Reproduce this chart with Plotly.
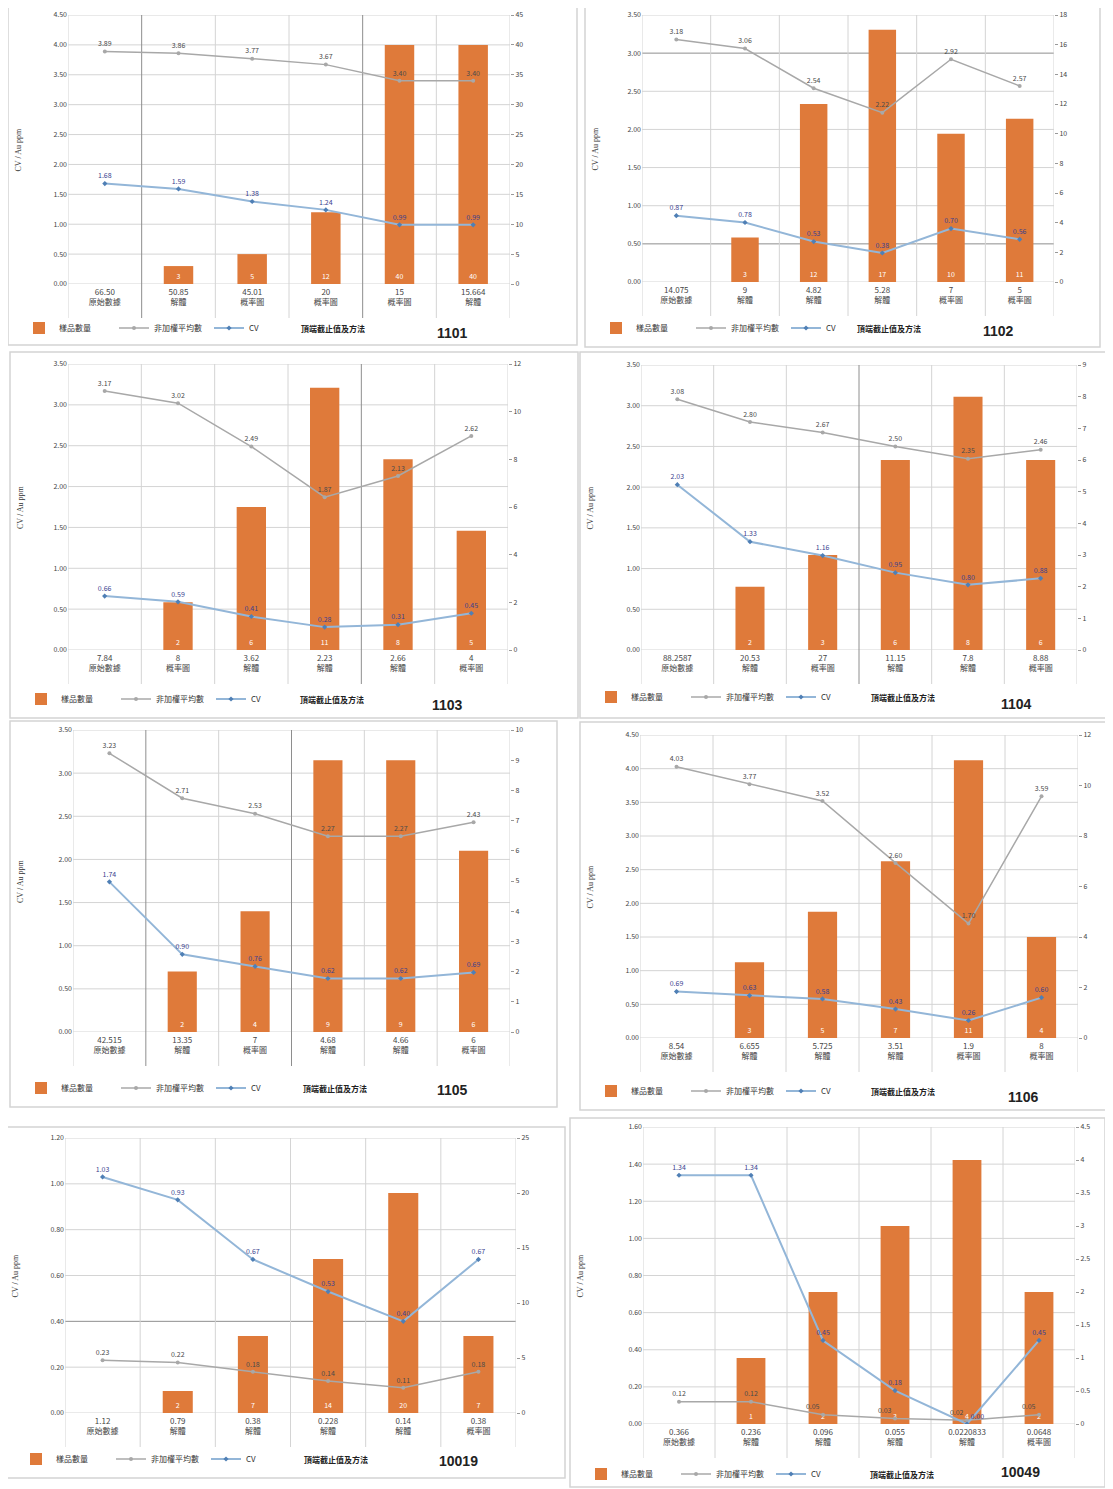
import plotly.graph_objects as go

# the page body adds an 8px margin, so the figure is drawn 8px in from the corner
OFF = 8
W, H = 1113 - OFF, 1489 - OFF
FONT = "Noto Sans CJK TC, Noto Sans, DejaVu Sans"

RAW, SPLIT, PROB = "原始數據", "解體", "概率圖"

IDS = ["1101", "1102", "1103", "1104", "1105", "1106", "10019", "10049"]

# top-cut value, method, sample count (right axis), unweighted mean and CV (left axis)
CUT_1101 = ["66.50", "50.85", "45.01", "20", "15", "15.664"]
METHOD_1101 = [RAW, SPLIT, PROB, PROB, PROB, SPLIT]
COUNT_1101 = [0, 3, 5, 12, 40, 40]
MEAN_1101 = [3.89, 3.86, 3.77, 3.67, 3.40, 3.40]
CV_1101 = [1.68, 1.59, 1.38, 1.24, 0.99, 0.99]

CUT_1102 = ["14.075", "9", "4.82", "5.28", "7", "5"]
METHOD_1102 = [RAW, SPLIT, SPLIT, SPLIT, PROB, PROB]
COUNT_1102 = [0, 3, 12, 17, 10, 11]
MEAN_1102 = [3.18, 3.06, 2.54, 2.22, 2.92, 2.57]
CV_1102 = [0.87, 0.78, 0.53, 0.38, 0.70, 0.56]

CUT_1103 = ["7.84", "8", "3.62", "2.23", "2.66", "4"]
METHOD_1103 = [RAW, PROB, SPLIT, SPLIT, SPLIT, PROB]
COUNT_1103 = [0, 2, 6, 11, 8, 5]
MEAN_1103 = [3.17, 3.02, 2.49, 1.87, 2.13, 2.62]
CV_1103 = [0.66, 0.59, 0.41, 0.28, 0.31, 0.45]

CUT_1104 = ["88.2587", "20.53", "27", "11.15", "7.8", "8.88"]
METHOD_1104 = [RAW, SPLIT, PROB, SPLIT, SPLIT, PROB]
COUNT_1104 = [0, 2, 3, 6, 8, 6]
MEAN_1104 = [3.08, 2.80, 2.67, 2.50, 2.35, 2.46]
CV_1104 = [2.03, 1.33, 1.16, 0.95, 0.80, 0.88]

CUT_1105 = ["42.515", "13.35", "7", "4.68", "4.66", "6"]
METHOD_1105 = [RAW, SPLIT, PROB, SPLIT, SPLIT, PROB]
COUNT_1105 = [0, 2, 4, 9, 9, 6]
MEAN_1105 = [3.23, 2.71, 2.53, 2.27, 2.27, 2.43]
CV_1105 = [1.74, 0.90, 0.76, 0.62, 0.62, 0.69]

CUT_1106 = ["8.54", "6.655", "5.725", "3.51", "1.9", "8"]
METHOD_1106 = [RAW, SPLIT, SPLIT, SPLIT, PROB, PROB]
COUNT_1106 = [0, 3, 5, 7, 11, 4]
MEAN_1106 = [4.03, 3.77, 3.52, 2.60, 1.70, 3.59]
CV_1106 = [0.69, 0.63, 0.58, 0.43, 0.26, 0.60]

CUT_10019 = ["1.12", "0.79", "0.38", "0.228", "0.14", "0.38"]
METHOD_10019 = [RAW, SPLIT, SPLIT, SPLIT, SPLIT, PROB]
COUNT_10019 = [0, 2, 7, 14, 20, 7]
MEAN_10019 = [0.23, 0.22, 0.18, 0.14, 0.11, 0.18]
CV_10019 = [1.03, 0.93, 0.67, 0.53, 0.40, 0.67]

CUT_10049 = ["0.366", "0.236", "0.096", "0.055", "0.0220833", "0.0648"]
METHOD_10049 = [RAW, SPLIT, SPLIT, SPLIT, SPLIT, PROB]
COUNT_10049 = [0, 1, 2, 3, 4, 2]
MEAN_10049 = [0.12, 0.12, 0.05, 0.03, 0.02, 0.05]
CV_10049 = [1.34, 1.34, 0.45, 0.18, 0.00, 0.45]

# axis ranges: (left max, left step, right max, right step)
AXES = [(4.5, 0.5, 45, 5), (3.5, 0.5, 18, 2), (3.5, 0.5, 12, 2), (3.5, 0.5, 9, 1),
        (3.5, 0.5, 10, 1), (4.5, 0.5, 12, 2), (1.2, 0.2, 25, 5), (1.6, 0.2, 4.5, 0.5)]

DATA = [
    (CUT_1101, METHOD_1101, COUNT_1101, MEAN_1101, CV_1101),
    (CUT_1102, METHOD_1102, COUNT_1102, MEAN_1102, CV_1102),
    (CUT_1103, METHOD_1103, COUNT_1103, MEAN_1103, CV_1103),
    (CUT_1104, METHOD_1104, COUNT_1104, MEAN_1104, CV_1104),
    (CUT_1105, METHOD_1105, COUNT_1105, MEAN_1105, CV_1105),
    (CUT_1106, METHOD_1106, COUNT_1106, MEAN_1106, CV_1106),
    (CUT_10019, METHOD_10019, COUNT_10019, MEAN_10019, CV_10019),
    (CUT_10049, METHOD_10049, COUNT_10049, MEAN_10049, CV_10049),
]

# page geometry in screen pixels
BOX = [(8, 3, 577, 345), (585, 3, 1100, 347), (10, 352, 578, 718), (580, 352, 1112, 718),
       (10, 721, 557, 1107), (580, 722, 1110, 1110), (5, 1127, 565, 1478), (570, 1118, 1105, 1487)]
PLOT = [(68, 510, 15, 284), (642, 1054, 15, 282), (68, 508, 364, 650), (641, 1077, 365, 650),
        (73, 510, 730, 1032), (640, 1078, 735, 1038), (65, 516, 1138, 1413), (643, 1075, 1127, 1424)]
LEG_Y = [328, 328, 699, 697, 1088, 1091, 1459, 1474]
ID_POS = [(452, 333), (998, 331), (448, 705), (1016, 704), (452, 1090), (1023, 1097), (458, 1461), (1020, 1472)]
# scanned gridlines that print darker in the source
DARK_V = {0: [0.5, 3.5], 2: [3.5], 3: [2.5], 4: [0.5, 2.5]}
DARK_H = {1: [3.0, 0.5], 6: [0.4]}

BAR_C = "#DF7A3A"
MEAN_C = "#A8A8A8"
CV_C = "#93B6D8"
GRID_C = "#D4D4D4"
DARK_C = "#8E8E8E"


def fx(x):
    return (x - OFF) / W


def fy(y):
    return 1 - (y - OFF) / H


def ax(letter, k, key=False):
    if key:
        return f"{letter}axis" if k == 1 else f"{letter}axis{k}"
    return letter if k == 1 else f"{letter}{k}"


fig = go.Figure()
layout = dict(width=W, height=H, margin=dict(l=0, r=0, t=0, b=0),
              paper_bgcolor="white", plot_bgcolor="rgba(0,0,0,0)",
              font=dict(family=FONT, size=8, color="#333"))
shapes, annotations = [], []

for i, (cut, meth, cnt, mean, cv) in enumerate(DATA):
    n = i + 1
    base, over = 2 * n - 1, 2 * n
    ymax, ystep, y2max, y2step = AXES[i]
    x0, x1, yt, yb = PLOT[i]
    leg = ax("legend", n)
    xs = list(range(len(cut)))

    # keep point labels off each other and off the count labels at the bar foot
    close = [abs(m - c) < 0.05 * ymax for m, c in zip(mean, cv)]
    low = [m < 0.06 * ymax and c > 0 for m, c in zip(mean, cnt)]
    mean_pos = ["top left" if (c or lo) else "top center" for c, lo in zip(close, low)]
    cv_pos = ["top right" if c else "top center" for c in close]

    fig.add_trace(go.Bar(
        x=xs, y=cnt, width=0.4, marker=dict(color=BAR_C, line=dict(width=0)),
        text=[str(c) if c else "" for c in cnt], textposition="inside",
        insidetextanchor="start", textangle=0,
        textfont=dict(color="white", size=7),
        name="樣品數量", legend=leg,
        xaxis=ax("x", n), yaxis=ax("y", base)))
    fig.add_trace(go.Scatter(
        x=xs, y=mean, mode="lines+markers+text",
        line=dict(color=MEAN_C, width=1.5), marker=dict(color=MEAN_C, size=4),
        text=[f"{v:.2f}" for v in mean], textposition=mean_pos,
        textfont=dict(color="#4a4a4a", size=7),
        name="非加權平均數", legend=leg,
        xaxis=ax("x", n), yaxis=ax("y", over)))
    fig.add_trace(go.Scatter(
        x=xs, y=cv, mode="lines+markers+text",
        line=dict(color=CV_C, width=2), marker=dict(color="#4F7FB5", size=4, symbol="diamond"),
        text=[f"{v:.2f}" for v in cv], textposition=cv_pos,
        textfont=dict(color="#3a3f8f", size=7),
        name="CV", legend=leg,
        xaxis=ax("x", n), yaxis=ax("y", over)))

    ydom = [fy(yb), fy(yt)]
    layout[ax("x", n, True)] = dict(
        domain=[fx(x0), fx(x1)], anchor=ax("y", base), range=[-0.5, len(cut) - 0.5],
        tickvals=xs, ticktext=[f"{c}<br>{m}" for c, m in zip(cut, meth)],
        showgrid=False, zeroline=False, showline=False, ticks="", ticklabelstandoff=2,
        tickfont=dict(size=8, color="#444"), automargin=False)
    layout[ax("y", base, True)] = dict(
        domain=ydom, anchor=ax("x", n), side="right", range=[0, y2max], dtick=y2step,
        showgrid=False, zeroline=False, showline=False, ticks="outside", ticklen=3,
        tickcolor="#999", tickfont=dict(size=7, color="#444"), automargin=False)
    layout[ax("y", over, True)] = dict(
        overlaying=ax("y", base), anchor=ax("x", n), side="left", range=[0, ymax],
        dtick=ystep, tickformat=".2f", showgrid=False, zeroline=False, showline=False,
        tickfont=dict(size=7, color="#444"), automargin=False)

    # horizontal grid at left-axis ticks
    k = 0
    while k * ystep <= ymax + 1e-9:
        v = round(k * ystep, 6)
        dark = any(abs(v - d) < 1e-6 for d in DARK_H.get(i, []))
        shapes.append(dict(type="line", layer="below", xref=f"{ax('x', n)} domain", x0=0, x1=1,
                           yref=ax("y", over), y0=v, y1=v,
                           line=dict(color=DARK_C if dark else GRID_C, width=1)))
        k += 1
    # category separators, running down through the labels
    for b in range(len(cut) + 1):
        dark = (b - 0.5) in DARK_V.get(i, [])
        shapes.append(dict(type="line", layer="below", xref=ax("x", n), x0=b - 0.5, x1=b - 0.5,
                           yref="paper", y0=fy(yb + 34), y1=fy(yt),
                           line=dict(color=DARK_C if dark else GRID_C, width=1)))
    bx0, by0, bx1, by1 = BOX[i]
    shapes.append(dict(type="rect", xref="paper", yref="paper", x0=fx(bx0), x1=fx(bx1),
                       y0=fy(by1), y1=fy(by0), line=dict(color="#D4D4D4", width=1.5)))

    layout[leg] = dict(orientation="h", x=fx(bx0 + 11), y=fy(LEG_Y[i]), xanchor="left",
                       yanchor="middle", bgcolor="rgba(0,0,0,0)", font=dict(size=8, color="#333"),
                       itemwidth=30, entrywidth=50, traceorder="normal")

    annotations.append(dict(text="CV / Au ppm", textangle=-90, xref="paper", yref="paper",
                            x=fx(bx0 + 10), y=fy((yt + yb) / 2), showarrow=False,
                            xanchor="center", yanchor="middle",
                            font=dict(size=8, family="Liberation Serif, DejaVu Serif", color="#333")))
    annotations.append(dict(text="<b>頂端截止值及方法</b>", xref="paper", yref="paper",
                            x=fx(x0 + 0.6 * (x1 - x0)), y=fy(LEG_Y[i]), showarrow=False,
                            xanchor="center", yanchor="middle",
                            font=dict(size=8, color="#222")))
    annotations.append(dict(text=f"<b>{IDS[i]}</b>", xref="paper", yref="paper",
                            x=fx(ID_POS[i][0]), y=fy(ID_POS[i][1]), showarrow=False,
                            xanchor="center", yanchor="middle",
                            font=dict(size=14, family="Liberation Sans, Arial", color="#222")))

layout["shapes"] = shapes
layout["annotations"] = annotations
fig.update_layout(**layout)
fig.write_html("out.html")
